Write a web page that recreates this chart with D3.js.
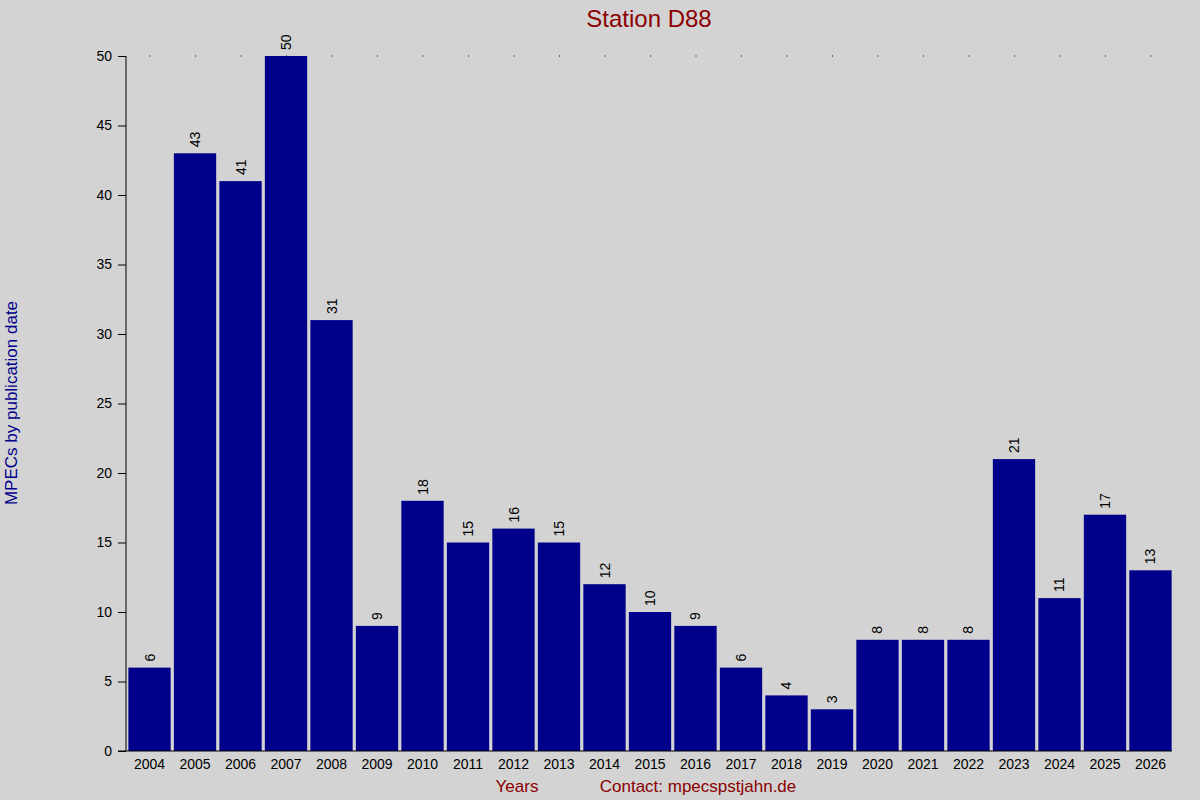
<!DOCTYPE html>
<html><head><meta charset="utf-8">
<script src="https://cdn.jsdelivr.net/npm/d3@7"></script>
<style>body{margin:0;background:#d3d3d3}svg{display:block;font-family:"Liberation Sans",Arial,sans-serif}</style>
</head><body><svg id="c" width="1200" height="800"></svg>
<script>
const years = ["2004","2005","2006","2007","2008","2009","2010","2011","2012","2013","2014","2015","2016","2017","2018","2019","2020","2021","2022","2023","2024","2025","2026"];
const counts = [6,43,41,50,31,9,18,15,16,15,12,10,9,6,4,3,8,8,8,21,11,17,13];
const yTicks = [0,5,10,15,20,25,30,35,40,45,50];

const svg = d3.select("#c");
svg.append("rect").attr("width",1200).attr("height",800).attr("fill","#d3d3d3");
const L=126,R=1172,T=56,B=751;
const x = d3.scaleBand().domain(years).range([L+1,R+1]).paddingInner(0.07).paddingOuter(0.03);
const y = d3.scaleLinear().domain([0,50]).range([B,T]);

// top dots
svg.selectAll(".dot").data(years).enter().append("rect")
  .attr("x",d=>x(d)+x.bandwidth()/2).attr("y",T-0.5).attr("width",1).attr("height",1).attr("fill","#000");

svg.selectAll(".bar").data(years).enter().append("rect")
  .attr("x",d=>x(d)).attr("y",(d,i)=>y(counts[i])).attr("width",x.bandwidth())
  .attr("height",(d,i)=>B-y(counts[i])).attr("fill","#00008b");

svg.selectAll(".lbl").data(years).enter().append("text")
  .attr("transform",(d,i)=>`translate(${x(d)+x.bandwidth()/2+5},${y(counts[i])-6}) rotate(-90)`)
  .attr("font-size",14).attr("fill","#000").text((d,i)=>counts[i]);

const ya = svg.append("g").attr("transform",`translate(${L},0)`)
  .call(d3.axisLeft(y).tickValues(yTicks).tickSize(8).tickPadding(6));
ya.selectAll("text").attr("font-size",14).attr("font-family","Liberation Sans, Arial").attr("fill","#000");
ya.select(".domain").attr("d",`M0,${T}V${B}`);

const xa = svg.append("g").attr("transform",`translate(0,${B})`)
  .call(d3.axisBottom(x).tickSize(0).tickPadding(8));
xa.selectAll("text").attr("font-size",14).attr("font-family","Liberation Sans, Arial").attr("fill","#000");
xa.select(".domain").attr("d",`M${L-8},0H${R}`);

svg.append("text").attr("x",649).attr("y",27).attr("text-anchor","middle").attr("font-size",24).attr("fill","#8b0000").text("Station D88");
svg.append("text").attr("x",517).attr("y",792).attr("text-anchor","middle").attr("font-size",17).attr("fill","#8b0000").text("Years");
svg.append("text").attr("x",698).attr("y",792).attr("text-anchor","middle").attr("font-size",17).attr("fill","#8b0000").text("Contact: mpecspstjahn.de");
svg.append("text").attr("transform","translate(17,403) rotate(-90)").attr("text-anchor","middle").attr("font-size",17).attr("fill","#00008b").text("MPECs by publication date");
</script></body></html>
